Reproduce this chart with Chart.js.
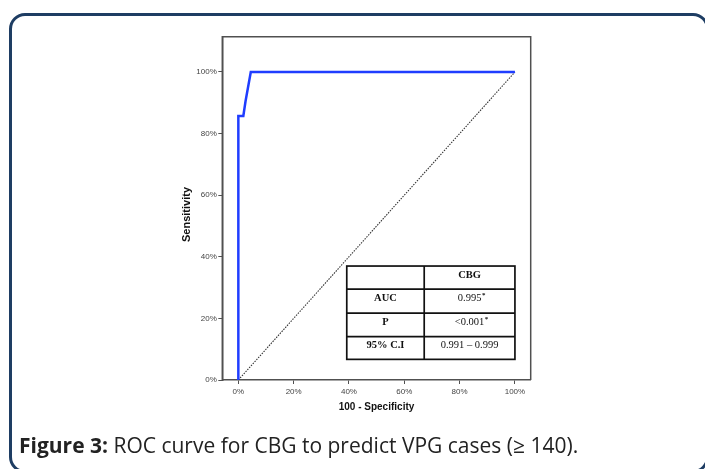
<!DOCTYPE html>
<html>
<head>
<meta charset="utf-8">
<script src="https://cdn.jsdelivr.net/npm/chart.js@4.4.1/dist/chart.umd.min.js"></script>
<style>
  html, body { margin: 0; padding: 0; background: #fff; }
  body { width: 705px; height: 469px; position: relative; overflow: hidden; }
  #card { position: absolute; left: 9px; top: 12.5px; width: 700px; height: 460px;
          box-sizing: border-box; border: 3px solid #1e3d63; border-radius: 16px; }
  #c { position: absolute; left: 0; top: 0; }
  #caption { position: absolute; left: 19px; top: 434px; font-family: "Open Sans", sans-serif;
             font-size: 21px; line-height: 22px; color: #222; white-space: nowrap; }
  #caption b { font-weight: 700; }
</style>
</head>
<body>
<div id="card"></div>
<canvas id="c" width="705" height="469"></canvas>
<div id="caption"><b>Figure 3:</b> ROC curve for CBG to predict VPG cases (≥ 140).</div>
<script>
// ---- data ----
const specX = [0, 0, 1.8, 2.6, 4.5, 100];          // 100 - Specificity (%)
const sensY = [0, 85.7, 85.7, 90.5, 100, 100];     // Sensitivity (%)
const refX = [0, 100];
const refY = [0, 100];
const tickValues = [0, 20, 40, 60, 80, 100];
const tickLabels = ['0%', '20%', '40%', '60%', '80%', '100%'];
const tableHeader = ['', 'CBG'];
const tableRowLabels = ['AUC', 'P', '95% C.I'];
const tableRowValues = ['0.995', '<0.001', '0.991 \u2013 0.999'];
const tableRowMarks = ['*', '*', ''];

const curve = specX.map((x, i) => ({ x: x, y: sensY[i] }));
const diag = refX.map((x, i) => ({ x: x, y: refY[i] }));

const frameColor = '#505050';

const framePlugin = {
  id: 'frame',
  afterDatasetsDraw(chart) {
    const { ctx, chartArea: a } = chart;
    ctx.save();
    ctx.strokeStyle = frameColor;
    ctx.lineWidth = 1.5;
    ctx.beginPath();
    ctx.moveTo(a.left, a.bottom);
    ctx.lineTo(a.left, a.top);
    ctx.lineTo(a.right, a.top);
    ctx.lineTo(a.right, a.bottom);
    ctx.stroke();
    ctx.restore();
  }
};

const tablePlugin = {
  id: 'statsTable',
  afterDatasetsDraw(chart) {
    const { ctx } = chart;
    const xs = chart.scales.x, ys = chart.scales.y;
    const left = xs.getPixelForValue(39.2);
    const right = xs.getPixelForValue(100);
    const mid = xs.getPixelForValue(67.2);
    const rowEdges = [37.0, 29.5, 21.7, 14.1, 6.7].map(v => ys.getPixelForValue(v));
    ctx.save();
    ctx.fillStyle = '#fff';
    ctx.fillRect(left, rowEdges[0], right - left, rowEdges[4] - rowEdges[0]);
    ctx.strokeStyle = '#111';
    ctx.lineWidth = 1.7;
    ctx.strokeRect(left, rowEdges[0], right - left, rowEdges[4] - rowEdges[0]);
    ctx.beginPath();
    for (let i = 1; i < 4; i++) { ctx.moveTo(left, rowEdges[i]); ctx.lineTo(right, rowEdges[i]); }
    ctx.moveTo(mid, rowEdges[0]); ctx.lineTo(mid, rowEdges[4]);
    ctx.stroke();

    const c1 = (left + mid) / 2, c2 = (mid + right) / 2;
    ctx.fillStyle = '#111';
    ctx.textAlign = 'center';
    ctx.textBaseline = 'alphabetic';
    ctx.font = 'bold 10.5px "Liberation Serif", serif';
    ctx.fillText(tableHeader[0], c1, rowEdges[0] + 11.5);
    ctx.fillText(tableHeader[1], c2, rowEdges[0] + 11.5);
    for (let i = 0; i < tableRowLabels.length; i++) {
      const by = rowEdges[i + 1] + 11.5;
      ctx.font = 'bold 10.5px "Liberation Serif", serif';
      ctx.textAlign = 'center';
      ctx.fillText(tableRowLabels[i], c1, by);
      ctx.font = '10.5px "Liberation Serif", serif';
      const w = ctx.measureText(tableRowValues[i]).width;
      ctx.textAlign = 'left';
      ctx.fillText(tableRowValues[i], c2 - w / 2, by);
      if (tableRowMarks[i]) {
        ctx.font = 'bold 7px "Liberation Serif", serif';
        ctx.fillText(tableRowMarks[i], c2 + w / 2 + 0.5, by - 4);
      }
    }
    ctx.restore();
  }
};

const axisCommon = {
  type: 'linear',
  afterBuildTicks: s => { s.ticks = tickValues.map(v => ({ value: v })); },
  ticks: {
    callback: (v) => tickLabels[tickValues.indexOf(v)],
    font: { family: '"Liberation Sans", Arial, sans-serif', size: 8 },
    color: '#444',
    autoSkip: false,
    maxRotation: 0,
    minRotation: 0
  },
  grid: { drawOnChartArea: false, drawTicks: true, tickLength: 4, color: frameColor, lineWidth: 1 },
  border: { display: true, color: frameColor, width: 1.5 }
};

new Chart(document.getElementById('c'), {
  type: 'scatter',
  data: {
    datasets: [
      { data: curve, showLine: true, borderColor: '#1f3dff', borderWidth: 2.5, pointRadius: 0,
        tension: 0, borderJoinStyle: 'miter', order: 1 },
      { data: diag, showLine: true, borderColor: '#333', borderWidth: 1.1, borderDash: [1.5, 1.2],
        pointRadius: 0, order: 2 }
    ]
  },
  options: {
    responsive: false,
    animation: false,
    events: [],
    layout: { padding: { left: 0, top: 36.7, right: 174.3, bottom: 56 } },
    plugins: { legend: { display: false }, tooltip: { enabled: false } },
    scales: {
      x: Object.assign({}, axisCommon, {
        min: -5.8, max: 105.7,
        ticks: Object.assign({}, axisCommon.ticks, { padding: 3 }),
        title: { display: true, text: '100 - Specificity', color: '#111',
                 font: { family: '"Liberation Sans", Arial, sans-serif', size: 10, weight: 'bold' },
                 padding: 0 },
        afterFit: s => { s.height = 33; }
      }),
      y: Object.assign({}, axisCommon, {
        min: 0, max: 111.46,
        ticks: Object.assign({}, axisCommon.ticks, { padding: 1.5 }),
        title: { display: true, text: 'Sensitivity    ', color: '#111',
                 font: { family: '"Liberation Sans", Arial, sans-serif', size: 11, weight: 'bold' },
                 padding: { top: 180.5, bottom: 0 } },
        afterFit: s => { s.width = 222.3; }
      })
    }
  },
  plugins: [framePlugin, tablePlugin]
});
</script>
</body>
</html>
